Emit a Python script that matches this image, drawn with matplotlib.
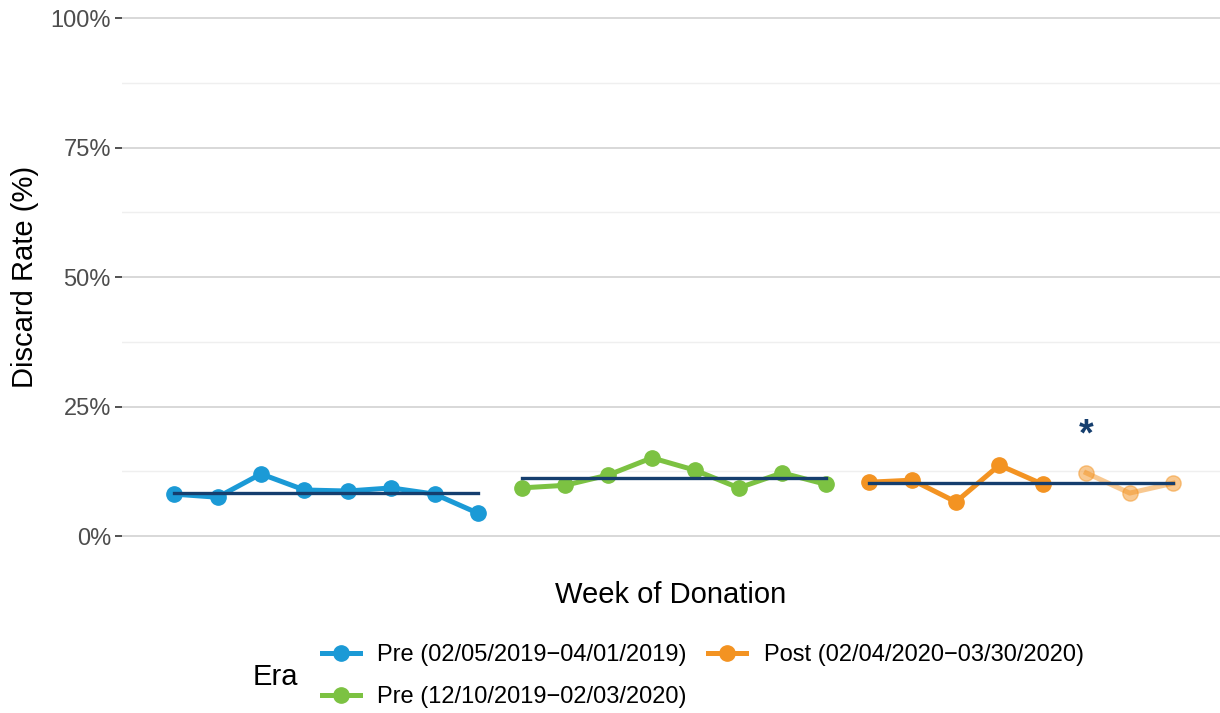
import matplotlib
matplotlib.use("Agg")
import matplotlib.pyplot as plt
from matplotlib.lines import Line2D
from matplotlib.ticker import FuncFormatter, MultipleLocator

plt.rcParams["font.family"] = ["Liberation Sans", "DejaVu Sans"]

# ---------- data (discard rate, %) ----------
weeks_pre1 = [1, 2, 3, 4, 5, 6, 7, 8]
rate_pre1 = [8.1, 7.5, 12.0, 8.9, 8.7, 9.3, 8.1, 4.4]
mean_pre1 = 8.4

weeks_pre2 = [9, 10, 11, 12, 13, 14, 15, 16]
rate_pre2 = [9.3, 9.8, 11.8, 15.1, 12.7, 9.3, 12.2, 10.0]
mean_pre2 = 11.3

weeks_post = [17, 18, 19, 20, 21]
rate_post = [10.4, 10.8, 6.6, 13.7, 10.0]
weeks_post_faded = [22, 23, 24]
rate_post_faded = [12.2, 8.3, 10.2]
mean_post = 10.2

star_week = 22
star_rate = 19.5

labels = ["Pre (02/05/2019\u221204/01/2019)",
          "Pre (12/10/2019\u221202/03/2020)",
          "Post (02/04/2020\u221203/30/2020)"]

c_blue, c_green, c_orange = "#1b9ad6", "#7cc242", "#f39322"
navy = "#153e6e"

fig = plt.figure(figsize=(12.2, 7.13), dpi=100)
ax = fig.add_axes([122 / 1220, 1 - 562 / 713, 1 - 122 / 1220, 562 / 713])

lw, ms = 3.6, 11
ax.plot(weeks_pre1, rate_pre1, "-o", color=c_blue, lw=lw, ms=ms, zorder=3)
ax.plot(weeks_pre2, rate_pre2, "-o", color=c_green, lw=lw, ms=ms, zorder=3)
ax.plot(weeks_post, rate_post, "-o", color=c_orange, lw=lw, ms=ms, zorder=3)
ax.plot(weeks_post_faded, rate_post_faded, "-o", color=c_orange, lw=lw, ms=ms,
        alpha=0.5, zorder=3)

for wk, m in [(weeks_pre1, mean_pre1), (weeks_pre2, mean_pre2),
              (weeks_post + weeks_post_faded, mean_post)]:
    ax.plot([wk[0], wk[-1]], [m, m], color=navy, lw=2.4, zorder=4)

ax.text(star_week, star_rate, "*", color=navy, fontsize=27, fontweight="bold",
        ha="center", va="center")

ax.set_xlim(-0.2, 25.08)
ax.set_ylim(-5, 100 + 18 / 5.18)
ax.yaxis.set_major_locator(MultipleLocator(25))
ax.yaxis.set_minor_locator(MultipleLocator(12.5))
ax.yaxis.set_major_formatter(FuncFormatter(lambda v, p: f"{v:.0f}%"))
ax.set_xticks([])
ax.grid(axis="y", which="major", color="#d6d6d6", lw=1.3)
ax.grid(axis="y", which="minor", color="#efefef", lw=1.0)
ax.set_axisbelow(True)
for s in ax.spines.values():
    s.set_visible(False)
ax.tick_params(axis="y", which="major", length=5, width=1.2, color="#333333",
               labelsize=17, labelcolor="#4d4d4d", pad=3)
ax.tick_params(axis="y", which="minor", length=0)

fig.text(671 / 1220, 1 - 595 / 713, "Week of Donation", fontsize=21,
         ha="center", va="center")
fig.text(25 / 1220, 1 - 277 / 713, "Discard Rate (%)", fontsize=21,
         rotation=90, ha="center", va="center")

handles = [Line2D([], [], color=c, lw=lw, marker="o", ms=ms)
           for c in (c_blue, c_green, c_orange)]
fig.legend(handles, labels, ncol=2, loc="center left",
           bbox_to_anchor=(322 / 1220, 1 - 676 / 713), frameon=False,
           fontsize=17, handlelength=1.6, columnspacing=0.9,
           labelspacing=0.85, handletextpad=0.75, borderpad=0,
           borderaxespad=0)
fig.text(275 / 1220, 1 - 677 / 713, "Era", fontsize=21, ha="center",
         va="center")

fig.savefig("out.png", dpi=100, facecolor="white")
